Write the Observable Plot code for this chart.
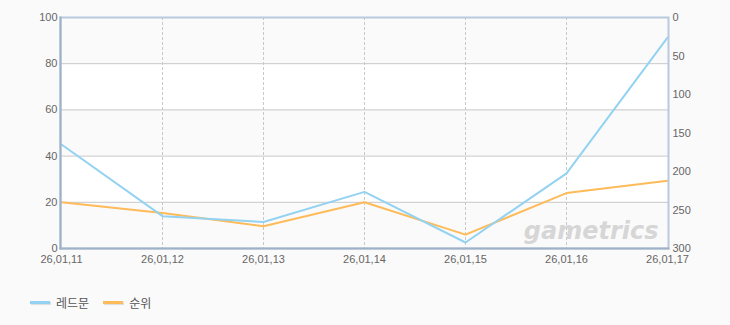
<!DOCTYPE html>
<html><head><meta charset="utf-8">
<script src="https://cdn.jsdelivr.net/npm/d3@7"></script>
<script src="https://cdn.jsdelivr.net/npm/@observablehq/plot@0.6"></script>
<style>
html,body{margin:0;padding:0;background:#fafafa;}
#chart{width:730px;}
.legend{display:flex;align-items:center;margin:22px 0 0 30px;font:12px "Liberation Sans","Noto Sans CJK KR",sans-serif;color:#555;}
.sw{display:inline-block;width:20px;height:3px;margin-right:6px;box-shadow:1px 1px 1px rgba(0,0,0,0.12);}
.item{display:flex;align-items:center;margin-right:14px;}
</style></head>
<body>
<div id="chart"></div>
<div class="legend">
  <span class="item"><span class="sw" style="background:#94d2f2"></span>레드문</span>
  <span class="item"><span class="sw" style="background:#fdbb5a"></span>순위</span>
</div>
<script>
const dates = ["26,01,11","26,01,12","26,01,13","26,01,14","26,01,15","26,01,16","26,01,17"];
const redmoon = [45, 14, 11.5, 24.5, 2.6, 32.5, 91.3];
const rank = [240, 254, 271, 240, 282, 228, 212];
const leftTicks = [0, 20, 40, 60, 80, 100];
const rightTicks = [0, 50, 100, 150, 200, 250, 300];
const bands = [[20, 40], [60, 80]];
const rankMax = 300;

const toLeft = r => 100 - r / rankMax * 100;
const blueData = dates.map((d, i) => ({date: d, v: redmoon[i]}));
const orangeData = dates.map((d, i) => ({date: d, v: toLeft(rank[i])}));
const font = "Liberation Sans, Noto Sans CJK KR, sans-serif";

const chart = Plot.plot({
  width: 730, height: 272,
  marginLeft: 60, marginRight: 62, marginTop: 17, marginBottom: 24,
  style: {background: "#fafafa", fontFamily: font, fontSize: "11px", color: "#666"},
  x: {type: "point", domain: dates, padding: 0},
  y: {domain: [0, 100]},
  marks: [
    Plot.rect(bands, {y1: d => d[0], y2: d => d[1], fill: "white"}),
    Plot.ruleY([20, 40, 60, 80], {stroke: "#c8c8c8"}),
    Plot.ruleX(dates.slice(1, -1), {stroke: "#c8c8c8", strokeDasharray: "3,2"}),
    Plot.text(["gametrics"], {frameAnchor: "bottom-right", dx: -10, dy: -10, fill: "#d6d6d6", fontSize: 24, fontWeight: "bold", fontStyle: "italic", fontFamily: "DejaVu Sans, sans-serif", textAnchor: "end"}),
    Plot.line(orangeData, {x: "date", y: "v", stroke: "#fdbb5a", strokeWidth: 2}),
    Plot.line(blueData, {x: "date", y: "v", stroke: "#94d2f2", strokeWidth: 2}),
    Plot.frame({stroke: "#b8cade", strokeWidth: 2}),
    Plot.frame({anchor: "left", stroke: "#9fb1c7", strokeWidth: 2}),
    Plot.frame({anchor: "bottom", stroke: "#9fb1c7", strokeWidth: 2}),
    Plot.axisY(leftTicks, {anchor: "left", tickSize: 0, tickPadding: 3, label: null, fill: "#666", fontSize: 11}),
    Plot.axisY(rightTicks.map(toLeft), {anchor: "right", tickSize: 0, tickPadding: 4, label: null, fill: "#666", fontSize: 11, tickFormat: d => String(Math.round((100 - d) / 100 * rankMax))}),
    Plot.axisX(dates, {anchor: "bottom", tickSize: 0, tickPadding: 7, label: null, fill: "#666", fontSize: 11})
  ]
});
document.getElementById("chart").appendChild(chart);
</script>
</body></html>
